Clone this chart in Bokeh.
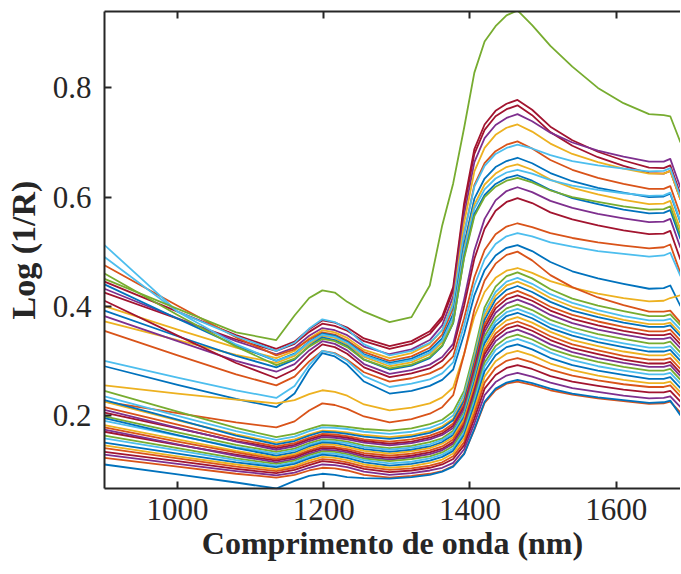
from bokeh.plotting import figure
from bokeh.models import LinearAxis, FixedTicker, Range1d
from bokeh.embed import file_html
from bokeh.resources import INLINE

# Wavelength sampling points (nm)
wavelength_nm = [900, 1000, 1080, 1135, 1160, 1180, 1198, 1215, 1232, 1255, 1290, 1320, 1345, 1362, 1377,
                 1392, 1406, 1420, 1435, 1450, 1465, 1485, 1510, 1540, 1575, 1610, 1645, 1665, 1674, 1688]

# Log(1/R) spectra (one list per sample)
s_outlier = [.450, .395, .352, .338, .383, .415, .429, .425, .408, .390, .371, .380, .438, .548, .625, .727, .828, .885, .913, .933, .942, .915, .877, .839, .800, .772, .752, .750, .748, .700]
u01 = [.445, .390, .347, .322, .335, .358, .374, .370, .361, .341, .327, .336, .354, .381, .435, .589, .688, .733, .758, .771, .778, .760, .729, .704, .683, .667, .654, .653, .658, .605]
u02 = [.425, .377, .339, .318, .331, .353, .368, .364, .355, .336, .322, .331, .349, .376, .429, .581, .679, .723, .748, .761, .768, .750, .719, .694, .673, .657, .644, .643, .648, .595]
u03 = [.432, .378, .336, .312, .324, .346, .360, .356, .347, .326, .312, .321, .338, .365, .418, .567, .664, .708, .732, .745, .752, .739, .718, .700, .685, .674, .665, .665, .670, .617]
u04 = [.400, .357, .324, .305, .318, .341, .356, .352, .342, .320, .305, .314, .331, .356, .408, .553, .647, .690, .714, .727, .733, .720, .698, .679, .664, .652, .643, .643, .648, .595]
u05 = [.475, .401, .343, .310, .321, .339, .352, .348, .337, .316, .300, .308, .324, .348, .397, .533, .622, .662, .684, .696, .702, .689, .668, .650, .635, .624, .615, .615, .620, .567]
u06 = [.512, .390, .345, .318, .333, .359, .376, .371, .358, .330, .310, .318, .333, .356, .403, .534, .619, .657, .679, .690, .696, .689, .677, .666, .658, .652, .647, .648, .653, .600]
u07 = [.440, .377, .328, .300, .313, .335, .350, .346, .335, .312, .296, .304, .319, .341, .386, .514, .597, .634, .655, .666, .672, .662, .644, .629, .617, .608, .600, .601, .606, .553]
u08 = [.372, .338, .311, .296, .309, .331, .346, .342, .330, .307, .290, .297, .312, .334, .379, .505, .586, .623, .643, .655, .660, .650, .632, .617, .605, .595, .587, .588, .593, .540]
u09 = [.490, .390, .330, .300, .312, .334, .348, .344, .333, .310, .294, .301, .315, .337, .379, .501, .579, .614, .634, .645, .650, .643, .631, .621, .613, .607, .602, .603, .608, .555]
u10 = [.392, .345, .309, .288, .302, .327, .343, .338, .327, .302, .284, .291, .305, .327, .369, .491, .569, .604, .624, .635, .640, .630, .613, .598, .587, .577, .570, .571, .576, .523]
u11 = [.460, .384, .326, .292, .304, .326, .340, .336, .325, .302, .286, .293, .307, .328, .370, .488, .565, .600, .619, .630, .635, .627, .612, .600, .591, .583, .577, .578, .583, .530]
u12 = [.382, .336, .300, .280, .294, .319, .336, .331, .319, .294, .276, .283, .293, .307, .331, .413, .502, .560, .594, .611, .618, .609, .593, .580, .569, .561, .554, .555, .560, .507]
u13 = [.410, .346, .296, .268, .284, .311, .330, .325, .313, .288, .270, .277, .286, .300, .323, .401, .487, .542, .575, .591, .598, .589, .572, .559, .548, .539, .532, .533, .538, .485]
u14 = [.355, .310, .275, .255, .271, .299, .318, .314, .302, .279, .262, .268, .277, .288, .308, .378, .453, .503, .532, .546, .552, .545, .534, .525, .517, .511, .506, .508, .513, .460]
u15 = [.300, .269, .246, .232, .254, .292, .318, .313, .300, .272, .252, .258, .266, .277, .297, .365, .438, .486, .514, .528, .534, .528, .517, .509, .501, .496, .491, .493, .498, .455]
u16 = [.290, .256, .230, .215, .240, .284, .314, .308, .293, .262, .240, .245, .254, .265, .284, .349, .420, .466, .493, .507, .512, .501, .481, .464, .451, .441, .432, .433, .438, .400]
m01 = [.255, .240, .229, .222, .228, .239, .246, .243, .236, .220, .209, .214, .222, .233, .251, .313, .381, .426, .452, .465, .470, .461, .446, .434, .423, .415, .409, .410, .415, .420]
m02 = [.225, .204, .187, .178, .189, .209, .222, .219, .212, .198, .187, .193, .203, .215, .237, .312, .394, .447, .478, .494, .500, .484, .457, .435, .416, .402, .390, .390, .392, .370]
l01 = [.245, .207, .177, .160, .166, .175, .182, .181, .179, .175, .172, .176, .184, .192, .207, .245, .317, .398, .436, .455, .462, .451, .431, .414, .401, .391, .382, .382, .385, .365]
l02 = [.235, .199, .171, .155, .161, .171, .178, .177, .175, .170, .166, .170, .177, .186, .200, .238, .309, .389, .426, .445, .452, .441, .422, .406, .393, .382, .374, .374, .377, .357]
l03 = [.225, .191, .165, .150, .156, .165, .172, .171, .169, .164, .160, .164, .171, .180, .194, .231, .303, .382, .419, .438, .445, .434, .415, .399, .386, .375, .367, .367, .370, .350]
l04 = [.228, .192, .163, .147, .153, .163, .170, .169, .166, .161, .157, .161, .168, .177, .191, .227, .297, .375, .412, .430, .437, .426, .408, .392, .380, .370, .362, .362, .365, .345]
l05 = [.215, .183, .157, .143, .149, .159, .166, .165, .162, .156, .152, .156, .163, .171, .185, .221, .290, .367, .403, .421, .428, .417, .399, .384, .372, .362, .354, .354, .357, .337]
l06 = [.205, .176, .153, .140, .146, .156, .163, .162, .159, .153, .148, .152, .159, .167, .181, .216, .284, .360, .396, .413, .420, .410, .392, .377, .365, .355, .347, .347, .350, .330]
l07 = [.210, .177, .152, .137, .143, .153, .160, .159, .156, .150, .145, .149, .156, .164, .177, .212, .279, .353, .388, .405, .412, .402, .384, .369, .357, .348, .340, .340, .343, .323]
l08 = [.198, .169, .146, .133, .139, .149, .156, .155, .152, .145, .140, .144, .151, .158, .172, .206, .272, .345, .379, .396, .403, .393, .375, .361, .349, .340, .332, .332, .335, .315]
l09 = [.190, .163, .142, .130, .136, .146, .153, .152, .149, .142, .137, .141, .147, .155, .168, .202, .266, .338, .372, .389, .395, .385, .367, .353, .341, .332, .324, .324, .327, .307]
l10 = [.195, .164, .140, .126, .132, .143, .150, .149, .145, .138, .133, .137, .143, .151, .164, .197, .261, .332, .365, .382, .388, .378, .360, .346, .334, .325, .317, .317, .320, .300]
l11 = [.182, .156, .135, .123, .129, .140, .147, .146, .142, .135, .130, .134, .140, .148, .160, .193, .255, .325, .358, .374, .380, .370, .353, .338, .327, .317, .310, .310, .313, .293]
l12 = [.178, .152, .132, .120, .126, .136, .143, .142, .138, .131, .126, .130, .136, .143, .156, .188, .249, .318, .350, .366, .372, .362, .345, .330, .319, .309, .302, .302, .305, .285]
l13 = [.170, .146, .128, .117, .123, .133, .140, .139, .135, .127, .122, .126, .132, .139, .151, .183, .244, .312, .343, .359, .365, .355, .338, .323, .312, .302, .295, .295, .298, .278]
l14 = [.174, .147, .126, .114, .120, .130, .137, .136, .132, .124, .119, .123, .129, .136, .148, .179, .238, .305, .336, .351, .357, .347, .330, .316, .305, .296, .289, .289, .292, .272]
l15 = [.163, .140, .121, .111, .117, .127, .134, .133, .129, .121, .116, .120, .125, .132, .144, .174, .232, .297, .327, .342, .348, .339, .322, .309, .298, .289, .282, .282, .285, .265]
l16 = [.158, .136, .118, .108, .114, .124, .131, .130, .126, .118, .112, .115, .121, .128, .139, .169, .226, .290, .320, .334, .340, .331, .315, .301, .290, .282, .275, .275, .278, .258]
l17 = [.150, .130, .114, .105, .111, .121, .128, .126, .122, .114, .108, .111, .117, .124, .135, .164, .219, .281, .310, .325, .330, .321, .305, .292, .282, .274, .267, .267, .270, .250]
l18 = [.145, .125, .110, .101, .107, .117, .124, .122, .118, .110, .104, .107, .113, .119, .130, .158, .211, .271, .299, .313, .318, .310, .295, .283, .273, .265, .259, .259, .262, .242]
l19 = [.140, .121, .106, .098, .104, .113, .120, .118, .114, .106, .100, .103, .108, .114, .125, .151, .203, .260, .287, .300, .305, .297, .284, .273, .264, .257, .252, .252, .255, .235]
l20 = [.133, .116, .102, .094, .100, .109, .116, .114, .110, .102, .096, .099, .104, .110, .120, .145, .194, .249, .274, .287, .292, .285, .272, .262, .254, .247, .242, .242, .245, .225]
l21 = [.128, .111, .098, .090, .095, .104, .110, .109, .105, .097, .091, .094, .099, .104, .113, .138, .185, .237, .261, .273, .278, .271, .260, .250, .243, .236, .231, .232, .235, .215]
l22 = [.122, .106, .093, .086, .091, .099, .104, .103, .099, .091, .086, .089, .093, .098, .107, .130, .174, .223, .246, .258, .262, .256, .246, .238, .231, .226, .221, .222, .225, .205]
l23 = [.110, .092, .077, .066, .080, .089, .093, .091, .087, .085, .084, .087, .091, .097, .106, .129, .175, .225, .249, .260, .265, .259, .249, .240, .233, .228, .223, .224, .227, .200]

spectra = [u01, u02, u03, u04, u05, u06, u07, u08, u09, u10, u11, u12, u13, u14, u15, u16,
           m01, m02, l01, l02, l03, l04, l05, l06, l07, l08, l09, l10, l11, l12,
           l13, l14, l15, l16, l17, l18, l19, l20, l21, l22, l23, s_outlier]

B, O, Y, P, G, L, R = "#0072BD", "#D95319", "#EDB120", "#7E2F8E", "#77AC30", "#4DBEEE", "#A2142F"
spectrum_colors = [R, R, P, Y, O, L, B, Y, L, B, G, P, R, O, L, B,
                   Y, O, G, L, Y, B, O, R, P, G, L, B, Y, O,
                   R, P, G, L, B, Y, O, R, P, O, B, G]

x_ticks = [1000, 1200, 1400, 1600]
y_ticks = [0.2, 0.4, 0.6, 0.8]

FONT = "Liberation Serif"
AX = "#262626"

p = figure(width=680, height=572, output_backend="svg", toolbar_location=None,
           x_range=Range1d(900, 1688), y_range=Range1d(0.066, 0.940),
           x_axis_location=None, y_axis_location=None,
           min_border_left=104, min_border_right=0, min_border_top=11, min_border_bottom=84)
p.outline_line_color = None
p.xgrid.visible = False
p.ygrid.visible = False
p.background_fill_color = "white"
p.border_fill_color = "white"

for ys, c in zip(spectra, spectrum_colors):
    p.line(wavelength_nm, ys, line_color=c, line_width=1.8, line_join="round")

def style(ax):
    ax.axis_line_color = AX
    ax.axis_line_width = 2
    ax.major_tick_line_color = AX
    ax.major_tick_line_width = 2
    ax.major_tick_in = 7
    ax.major_tick_out = 0
    ax.minor_tick_line_color = None
    ax.major_label_text_font = FONT
    ax.major_label_text_font_size = "31px"
    ax.major_label_text_color = AX
    ax.axis_label_text_font = FONT
    ax.axis_label_text_font_size = "32px"
    ax.axis_label_text_font_style = "bold"
    ax.axis_label_text_color = AX

xb = LinearAxis(ticker=FixedTicker(ticks=x_ticks), axis_label="Comprimento de onda (nm)")
style(xb)
xb.major_label_standoff = 10
xb.axis_label_standoff = 2
p.add_layout(xb, "below")

yl = LinearAxis(ticker=FixedTicker(ticks=y_ticks), axis_label="Log (1/R)")
style(yl)
yl.axis_label_text_font_size = "34px"
yl.major_label_standoff = 13
yl.axis_label_standoff = 8
p.add_layout(yl, "left")

xt = LinearAxis(ticker=FixedTicker(ticks=x_ticks))
style(xt)
xt.major_label_text_font_size = "0px"
xt.major_label_standoff = 0
xt.major_label_text_alpha = 0
p.add_layout(xt, "above")

open("out.html", "w").write(file_html(p, INLINE))
